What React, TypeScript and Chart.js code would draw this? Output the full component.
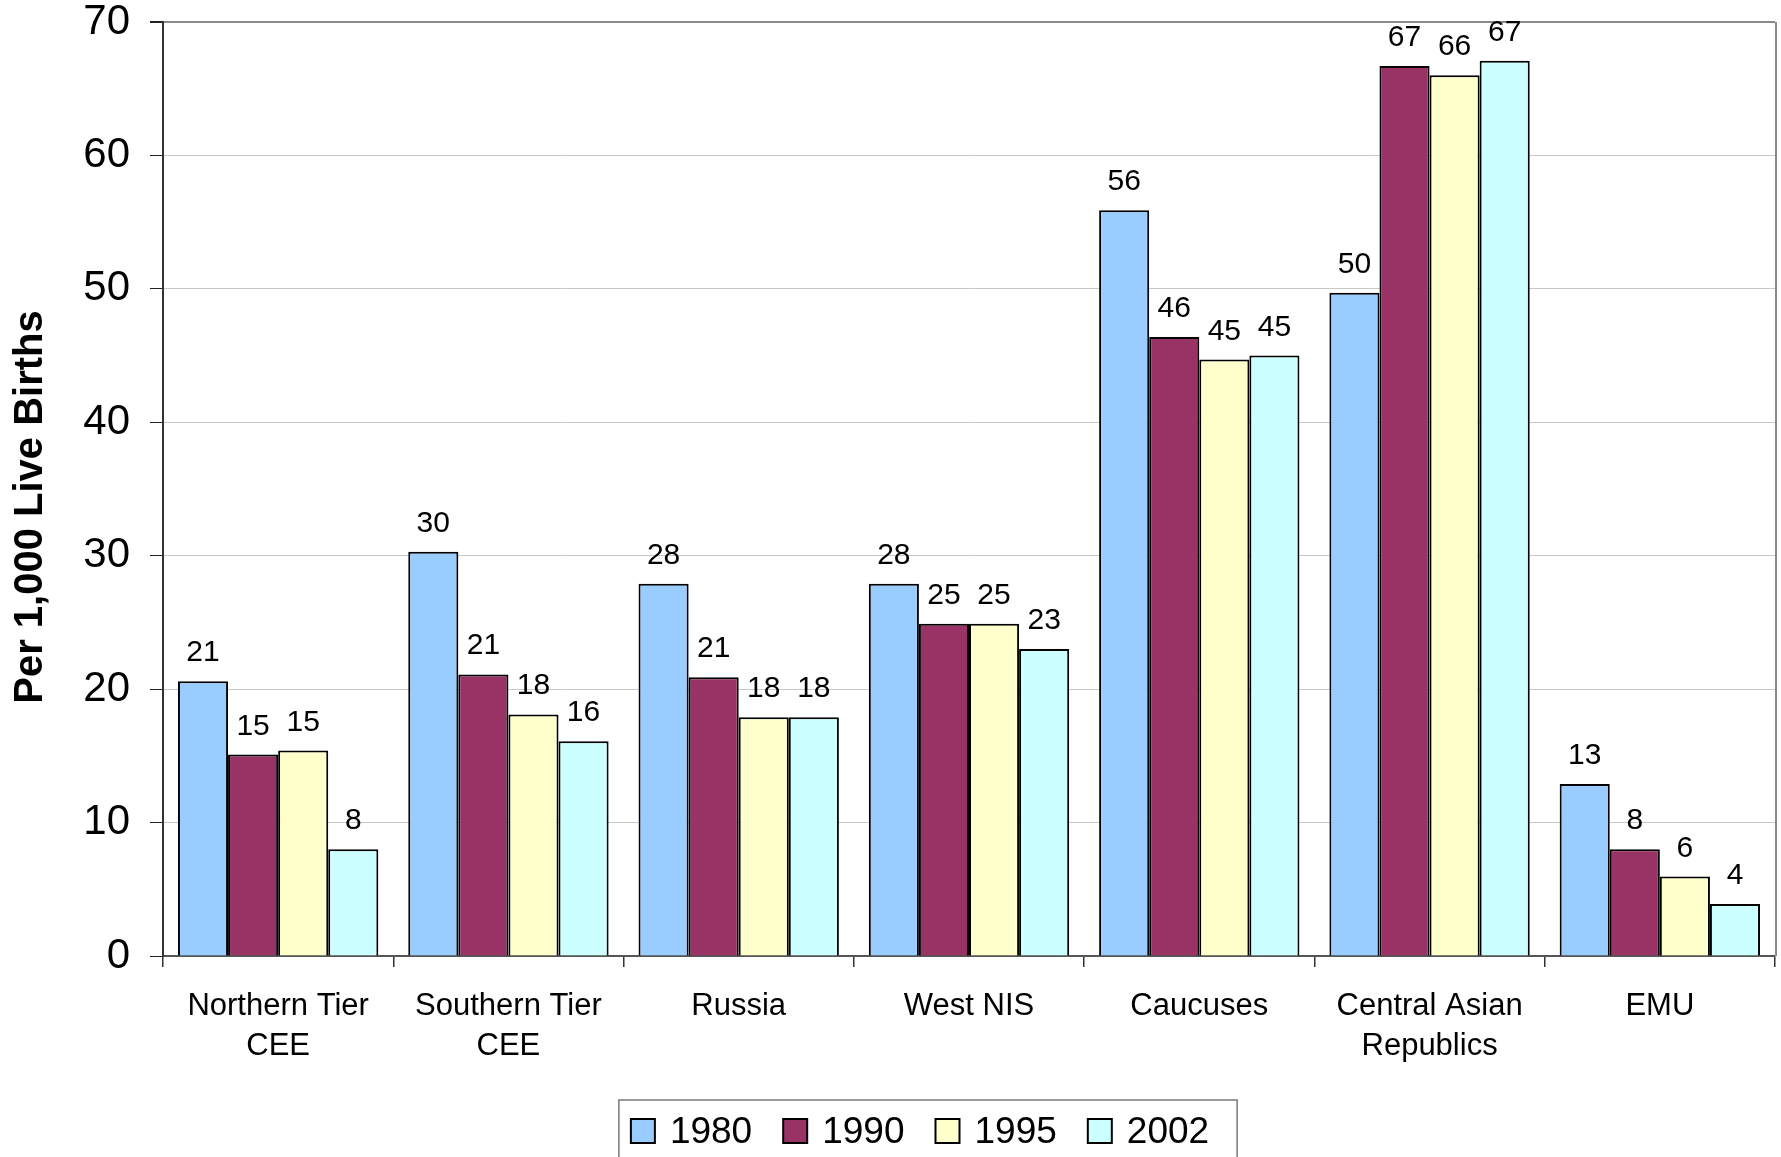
import React, { useEffect, useRef } from "react";
import { Chart, registerables } from "chart.js";

Chart.register(...registerables);

// ---- Data ----
const categories: string[][] = [
  ["Northern Tier", "CEE"],
  ["Southern Tier", "CEE"],
  ["Russia"],
  ["West NIS"],
  ["Caucuses"],
  ["Central Asian", "Republics"],
  ["EMU"],
];
const seriesLabels: string[] = ["1980", "1990", "1995", "2002"];
const values1980: number[] = [20.6, 30.3, 27.9, 27.9, 55.9, 49.7, 12.9];
const values1990: number[] = [15.1, 21.1, 20.9, 24.9, 46.4, 66.7, 8.0];
const values1995: number[] = [15.4, 18.1, 17.9, 24.9, 44.7, 66.0, 5.95];
const values2002: number[] = [8.0, 16.1, 17.9, 23.0, 45.0, 67.1, 3.9];
const yAxisTitle = "Per 1,000 Live Births";
const yMin = 0;
const yMax = 70;
const yStep = 10;

// ---- Styles ----
const seriesColors = ["#99CCFF", "#993366", "#FFFFCC", "#CCFFFF"];
const FONT = '"Liberation Sans", Arial, Helvetica, sans-serif';
const W = 1781;
const H = 1157;

const dataLabelPlugin = {
  id: "dataLabels",
  afterDatasetsDraw(chart: any) {
    const ctx = chart.ctx;
    ctx.save();
    ctx.font = `30px ${FONT}`;
    ctx.fillStyle = "#000";
    ctx.textAlign = "center";
    ctx.textBaseline = "alphabetic";
    chart.data.datasets.forEach((ds: any, di: number) => {
      const meta = chart.getDatasetMeta(di);
      meta.data.forEach((el: any, i: number) => {
        const v = ds.data[i];
        ctx.fillText(String(Math.round(v)), el.x, el.y - 20);
      });
    });
    ctx.restore();
  },
};

const frameLegendTitlePlugin = {
  id: "frameLegendTitle",
  afterDraw(chart: any) {
    const ctx = chart.ctx;
    const { right, top, bottom } = chart.chartArea;
    ctx.save();
    // right border of plot area
    ctx.strokeStyle = "#8a8a8a";
    ctx.lineWidth = 2;
    ctx.beginPath();
    ctx.moveTo(right + 1, top);
    ctx.lineTo(right + 1, bottom);
    ctx.stroke();

    // y axis title
    ctx.save();
    ctx.translate(31, 507);
    ctx.rotate(-Math.PI / 2);
    ctx.font = `bold 40px ${FONT}`;
    ctx.fillStyle = "#000";
    ctx.textAlign = "center";
    ctx.textBaseline = "middle";
    ctx.fillText(yAxisTitle, 0, 0);
    ctx.restore();

    // legend
    ctx.font = `37px ${FONT}`;
    const box = 24;
    const gapBoxText = 15;
    const gapItems = 31;
    const padLeft = 12;
    const padRight = 28;
    const widths = chart.data.datasets.map((d: any) => ctx.measureText(d.label).width);
    let total = 0;
    widths.forEach((w: number, i: number) => {
      total += box + gapBoxText + w + (i < widths.length - 1 ? gapItems : 0);
    });
    const boxW = padLeft + total + padRight;
    const centerX = 928;
    const legLeft = centerX - boxW / 2;
    const legTop = 1100;
    const legH = 80;
    ctx.strokeStyle = "#7a7a7a";
    ctx.lineWidth = 1.5;
    ctx.strokeRect(legLeft, legTop, boxW, legH);
    const cy = 1131;
    let x = legLeft + padLeft;
    chart.data.datasets.forEach((d: any, i: number) => {
      ctx.fillStyle = d.backgroundColor;
      ctx.fillRect(x, cy - box / 2, box, box);
      ctx.strokeStyle = "#000";
      ctx.lineWidth = 2;
      ctx.strokeRect(x, cy - box / 2, box, box);
      ctx.fillStyle = "#000";
      ctx.textAlign = "left";
      ctx.textBaseline = "middle";
      ctx.fillText(d.label, x + box + gapBoxText, cy + 2);
      x += box + gapBoxText + widths[i] + gapItems;
    });
    ctx.restore();
  },
};

export default function App() {
  const ref = useRef<HTMLCanvasElement | null>(null);

  useEffect(() => {
    document.body.style.margin = "0";
    const canvas = ref.current;
    if (!canvas) return;
    const seriesValues = [values1980, values1990, values1995, values2002];
    const chart = new Chart(canvas, {
      type: "bar",
      data: {
        labels: categories,
        datasets: seriesLabels.map((label, i) => ({
          label,
          data: seriesValues[i],
          backgroundColor: seriesColors[i],
          borderColor: "#000",
          borderWidth: 2,
          borderSkipped: "start",
          categoryPercentage: 0.87,
          barPercentage: 1.0,
        })),
      },
      options: {
        responsive: false,
        animation: false,
        devicePixelRatio: 1,
        layout: { padding: { top: 22, right: 6, left: 0, bottom: 0 } },
        plugins: {
          legend: { display: false },
          tooltip: { enabled: false },
          title: { display: false },
        },
        scales: {
          x: {
            offset: true,
            grid: {
              offset: true,
              drawOnChartArea: false,
              drawTicks: true,
              tickLength: 11,
              tickColor: "#333",
              lineWidth: 1.5,
            },
            border: { display: true, color: "#555", width: 2 },
            ticks: {
              color: "#000",
              font: { family: FONT, size: 31, lineHeight: 1.3 },
              padding: 19,
              maxRotation: 0,
              autoSkip: false,
            },
            afterFit: (scale: any) => {
              scale.height = H - 956;
              scale.paddingLeft = 0;
              scale.paddingRight = 0;
            },
          },
          y: {
            min: yMin,
            max: yMax,
            grid: {
              color: (c: any) => (c.tick && c.tick.value === yMax ? "#8a8a8a" : "#c8c8c8"),
              lineWidth: (c: any) => (c.tick && c.tick.value === yMax ? 2 : 1),
              tickColor: "#222",
              tickLength: 13,
              drawTicks: true,
            },
            border: { display: true, color: "#333", width: 2 },
            ticks: {
              stepSize: yStep,
              color: "#000",
              font: { family: FONT, size: 42 },
              padding: 20,
            },
            title: { display: false },
            afterFit: (scale: any) => {
              scale.width = 163;
              scale.paddingTop = 0;
              scale.paddingBottom = 0;
            },
          },
        },
      },
      plugins: [dataLabelPlugin, frameLegendTitlePlugin],
    } as any);
    return () => chart.destroy();
  }, []);

  return (
    <div style={{ position: "fixed", left: 0, top: 0, width: W, height: H, background: "#fff" }}>
      <canvas ref={ref} width={W} height={H} style={{ width: W, height: H, display: "block" }} />
    </div>
  );
}
